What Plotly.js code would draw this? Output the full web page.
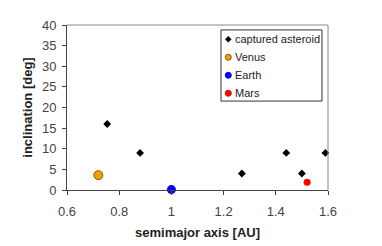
<!DOCTYPE html>
<html><head><meta charset="utf-8">
<script src="https://cdn.plot.ly/plotly-3.0.1.min.js"></script>
<style>html,body{margin:0;padding:0;background:#fff;}#c{width:382px;height:246px;}</style>
</head><body><div id="c"></div>
<script>
const asteroidA = [0.754, 0.88, 1.27, 1.44, 1.5, 1.59];
const asteroidI = [16, 9, 4, 9, 4, 9];
const venusA = [0.72], venusI = [3.6];
const earthA = [1.0], earthI = [0.1];
const marsA = [1.52], marsI = [1.9];
const seriesNames = ['captured asteroid', 'Venus', 'Earth', 'Mars'];
const xTicks = [0.6, 0.8, 1.0, 1.2, 1.4, 1.6];
const xTickText = ['0.6', '0.8', '1', '1.2', '1.4', '1.6'];
const yTicks = [0, 5, 10, 15, 20, 25, 30, 35, 40];

const styles = [
  {symbol: 'diamond', size: 6, color: '#000'},
  {symbol: 'circle', size: 9, color: '#f0a000', line: {color: '#8a5a00', width: 1}},
  {symbol: 'circle', size: 9, color: '#0000ff'},
  {symbol: 'circle', size: 7, color: '#ff0000'}
];
const xs = [asteroidA, venusA, earthA, marsA];
const ys = [asteroidI, venusI, earthI, marsI];
const traces = xs.map((x, i) => ({x: x, y: ys[i], name: seriesNames[i], mode: 'markers', type: 'scatter',
  cliponaxis: false, marker: styles[i], showlegend: false}));

const ff = 'Liberation Sans, Arial, sans-serif';
// Custom legend box (Excel-like, compact)
const lgX0 = 0.590, lgX1 = 0.977, lgY1 = 0.970, lgY0 = 0.539;
const shapes = [
  {type: 'line', xref: 'paper', yref: 'paper', x0: 0, x1: 1, y0: 1, y1: 1, line: {color: '#888', width: 1}},
  {type: 'line', xref: 'paper', yref: 'paper', x0: 1, x1: 1, y0: 0, y1: 1, line: {color: '#888', width: 1}},
  {type: 'rect', xref: 'paper', yref: 'paper', x0: lgX0, x1: lgX1, y0: lgY0, y1: lgY1,
   line: {color: '#333', width: 1}, fillcolor: '#fff', layer: 'above'}
];
const annotations = [];
const legMarkColors = ['#000', '#f0a000', '#0000ff', '#ff0000'];
const legMarkLines = ['#000', '#8a5a00', '#0000ff', '#ff0000'];
seriesNames.forEach((nm, i) => {
  const yc = lgY1 - (9.3 + 18 * i) / 165;
  if (i === 0) {
    shapes.push({type: 'path', xref: 'paper', yref: 'paper', xsizemode: 'pixel', ysizemode: 'pixel',
      xanchor: lgX0 + 7.3 / 261, yanchor: yc, path: 'M 0 3 L 3 0 L 0 -3 L -3 0 Z',
      fillcolor: '#000', line: {color: '#000', width: 0.5}, layer: 'above'});
  } else {
    shapes.push({type: 'circle', xref: 'paper', yref: 'paper', xsizemode: 'pixel', ysizemode: 'pixel',
      xanchor: lgX0 + 7.3 / 261, yanchor: yc, x0: -3, x1: 3, y0: -3, y1: 3,
      fillcolor: legMarkColors[i], line: {color: legMarkLines[i], width: 1}, layer: 'above'});
  }
  annotations.push({xref: 'paper', yref: 'paper', x: lgX0 + 12.5 / 261, y: yc, xanchor: 'left', yanchor: 'middle',
    text: nm, showarrow: false, font: {size: 11, color: '#222', family: ff}});
});

const layout = {
  width: 382, height: 246,
  margin: {l: 67, r: 54, t: 25, b: 56},
  paper_bgcolor: '#fff', plot_bgcolor: '#fff',
  font: {family: ff, color: '#333'},
  showlegend: false,
  xaxis: {range: [0.6, 1.6], tickvals: xTicks, ticktext: xTickText, showgrid: false, zeroline: false,
    showline: true, linecolor: '#444', linewidth: 1, ticks: 'outside', ticklen: 4, tickcolor: '#444',
    ticklabelstandoff: 5, tickfont: {size: 13, color: '#444'},
    title: {text: '<b>semimajor axis [AU]</b>', font: {size: 13, color: '#222'}, standoff: 10}},
  yaxis: {range: [0, 40], tickvals: yTicks, showgrid: false, zeroline: false,
    showline: true, linecolor: '#444', linewidth: 1, ticks: 'outside', ticklen: 4, tickcolor: '#444',
    ticklabelstandoff: 3, tickfont: {size: 13, color: '#444'},
    title: {text: '<b>inclination [deg]</b>', font: {size: 13, color: '#222'}, standoff: 6}},
  shapes: shapes,
  annotations: annotations
};
Plotly.newPlot('c', traces, layout, {displayModeBar: false, staticPlot: true});
</script></body></html>
